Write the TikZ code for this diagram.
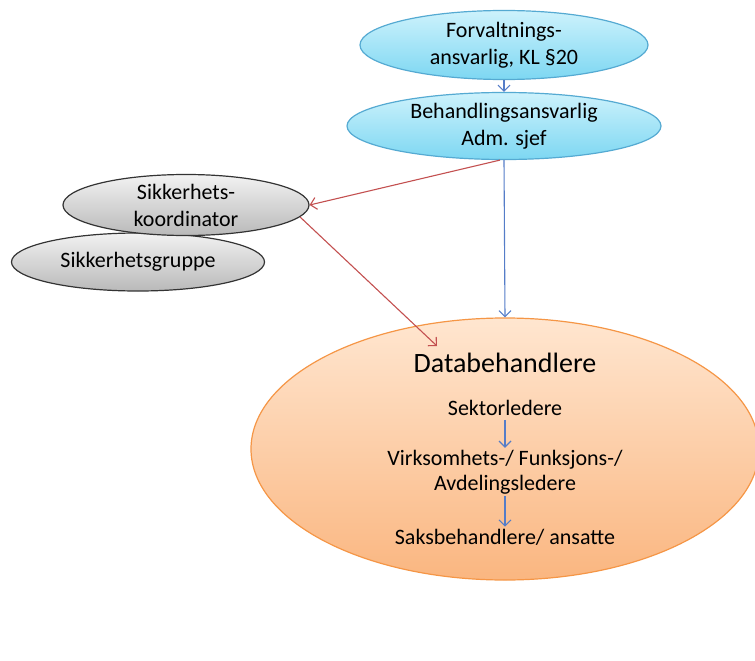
\documentclass[tikz,border=0pt]{standalone}
\usepackage{fontspec}
\setmainfont{Carlito}
\usetikzlibrary{shapes.geometric,arrows.meta}

\definecolor{bluetop}{RGB}{205,242,252}
\definecolor{bluebot}{RGB}{125,215,242}
\definecolor{blueline}{RGB}{85,170,210}
\definecolor{orangetop}{RGB}{255,230,208}
\definecolor{orangebot}{RGB}{250,182,128}
\definecolor{orangeline}{RGB}{245,150,70}
\definecolor{greytop}{RGB}{242,242,242}
\definecolor{greybot}{RGB}{185,185,185}
\definecolor{arrowblue}{RGB}{85,125,200}
\definecolor{arrowred}{RGB}{195,80,80}

\tikzset{bluebubble/.style={ellipse,draw=blueline,line width=1.2,top color=bluetop,bottom color=bluebot,
                            align=center,inner sep=0pt,font=\fontsize{22}{27}\selectfont},
         greybubble/.style={ellipse,draw=black!80,line width=1.2,top color=greytop,bottom color=greybot,
                            align=center,inner sep=0pt,font=\fontsize{22}{27}\selectfont},
         label/.style={align=center,inner sep=1pt,font=\fontsize{22}{25}\selectfont},
         bluearrow/.style={-{Straight Barb[length=6,width=12]},line width=1.1,arrowblue},
         redarrow/.style={-{Straight Barb[length=6,width=12]},line width=1.1,arrowred}}

\begin{document}
\begin{tikzpicture}[x=1pt,y=-1pt]
    \useasboundingbox (0,0) rectangle (755,661);
    % top of the chain
    \node[bluebubble,minimum width=288,minimum height=69] (forvalt) at (504,45) {Forvaltnings-\\ansvarlig, KL \S20};
    \node[bluebubble,minimum width=314,minimum height=67] (behand) at (504,126) {Behandlingsansvarlig\\Adm. sjef};
    % security
    \node[greybubble,minimum width=253,minimum height=58] (gruppe) at (138,262) {Sikkerhetsgruppe};
    \node[greybubble,minimum width=246,minimum height=61] (koord) at (186,205) {Sikkerhets-\\koordinator};
    % data processors
    \node[ellipse,draw=orangeline,line width=1.2,top color=orangetop,bottom color=orangebot,
          minimum width=508,minimum height=262] (data) at (505,449) {};
    \node[label,font=\fontsize{28}{32}\selectfont] (datatitle) at (505,363) {Databehandlere};
    \node[label] (sektor) at (505,408) {Sektorledere};
    \node[label] (virk) at (505,472) {Virksomhets-/ Funksjons-/\\Avdelingsledere};
    \node[label] (saks) at (505,537) {Saksbehandlere/ ansatte};
    \coordinate (redend) at (437,346);

    \draw[bluearrow] (forvalt) -- (behand);
    \draw[bluearrow] (behand.south) -- (data.north);
    \draw[redarrow] ([xshift=-4]behand.south) -- (koord.east);
    \draw[redarrow] (koord.-6) -- (redend);
    \draw[bluearrow,shorten <=3,shorten >=1] (sektor) -- (virk);
    \draw[bluearrow,shorten <=1,shorten >=1] (virk) -- (saks);
\end{tikzpicture}
\end{document}
